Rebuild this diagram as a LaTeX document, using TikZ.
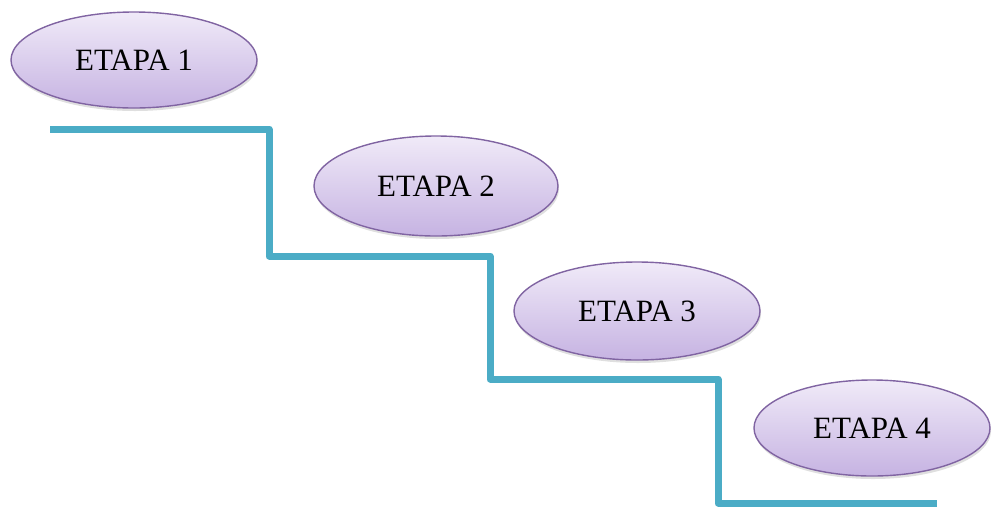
\documentclass[tikz,border=0pt]{standalone}
\usepackage{fontspec}
\setmainfont{Liberation Serif}
\usepackage{xcolor}
\usetikzlibrary{shapes.geometric,shadows}
\definecolor{lila}{HTML}{8064A2}
\definecolor{lilaclaro}{HTML}{F0EAF8}
\definecolor{lilaoscuro}{HTML}{C6B3E2}
\definecolor{turquesa}{HTML}{4BACC6}

\begin{document}
\begin{tikzpicture}[
  x=1pt, y=-1pt,
  font=\fontsize{31}{36}\selectfont,
  etapa/.style={ellipse, draw=lila, line width=1.4pt, top color=lilaclaro, bottom color=lilaoscuro,
    inner sep=0pt, drop shadow={shadow xshift=1pt, shadow yshift=-3pt, opacity=0.25}},
  escalon/.style={turquesa, line width=7pt, line join=round}
]
  \useasboundingbox (0,0) rectangle (993,507);

  \node[etapa, minimum width=246pt, minimum height=96pt] (etapa1) at (134,60) {ETAPA 1};
  \node[etapa, minimum width=244pt, minimum height=100pt] (etapa2) at (436,186) {ETAPA 2};
  \node[etapa, minimum width=246pt, minimum height=98pt] (etapa3) at (637,311) {ETAPA 3};
  \node[etapa, minimum width=236pt, minimum height=96pt] (etapa4) at (872,428) {ETAPA 4};

  \coordinate (p0) at (50,129);
  \coordinate (p1) at (269,129);
  \coordinate (p2) at (269,256);
  \coordinate (p3) at (490,256);
  \coordinate (p4) at (490,379);
  \coordinate (p5) at (718,379);
  \coordinate (p6) at (718,503);
  \coordinate (p7) at (937,503);
  \draw[escalon] (p0) -- (p1) -- (p2) -- (p3) -- (p4) -- (p5) -- (p6) -- (p7);
\end{tikzpicture}
\end{document}
